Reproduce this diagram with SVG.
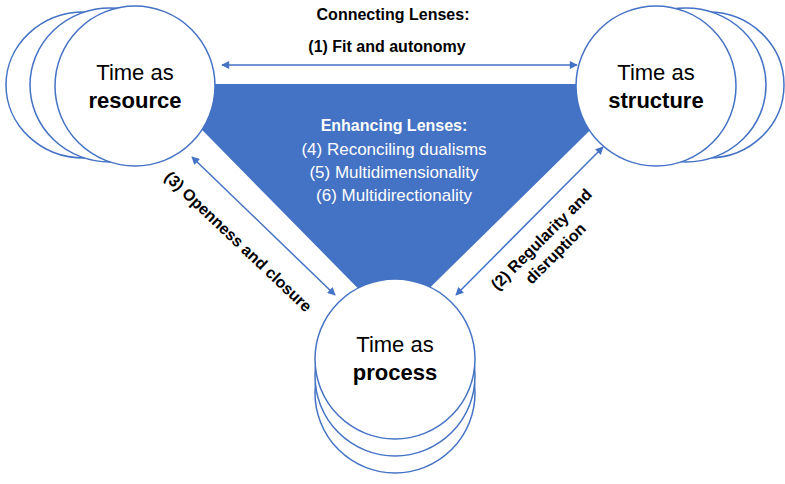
<svg xmlns="http://www.w3.org/2000/svg" width="785" height="484" viewBox="0 0 785 484">
  <defs>
    <marker id="ah" viewBox="0 0 10 10" refX="9" refY="5" markerWidth="9" markerHeight="8" markerUnits="userSpaceOnUse" orient="auto-start-reverse">
      <path d="M0,0 L10,5 L0,10 z" fill="#4472C4"/>
    </marker>
  </defs>
  <style>
    .c { fill: #ffffff; stroke: #4472C4; stroke-width: 1.5; }
    .t { font-family: "Liberation Sans", Arial, sans-serif; fill: #000; text-anchor: middle; }
    .nt { font-size: 22px; }
    .b { font-weight: bold; }
    .lbl { font-size: 16px; font-weight: bold; }
    .w { fill: #ffffff; font-size: 17px; }
    .conn { stroke: #4472C4; stroke-width: 1.5; fill: none; marker-start: url(#ah); marker-end: url(#ah); }
  </style>
  <rect width="785" height="484" fill="#ffffff"/>

  <g id="enhancing">
    <polygon points="157,84 637,84 393,324" fill="#4472C4"/>
    <text class="t b" x="394" y="131" style="fill:#fff;font-size:16px">Enhancing Lenses:</text>
    <text class="t w" x="394" y="155">(4) Reconciling dualisms</text>
    <text class="t w" x="394" y="178">(5) Multidimensionality</text>
    <text class="t w" x="394" y="201">(6) Multidirectionality</text>
  </g>

  <g id="resource">
    <ellipse class="c" cx="84" cy="85" rx="78" ry="73"/>
    <ellipse class="c" cx="110" cy="85" rx="80" ry="77"/>
    <circle class="c" cx="135" cy="86" r="80"/>
    <text class="t nt" x="135" y="80">Time as</text>
    <text class="t nt b" x="135" y="108">resource</text>
  </g>

  <g id="structure">
    <ellipse class="c" cx="708" cy="85" rx="76" ry="73"/>
    <ellipse class="c" cx="686" cy="85" rx="80" ry="77"/>
    <circle class="c" cx="656" cy="86" r="80"/>
    <text class="t nt" x="656" y="80">Time as</text>
    <text class="t nt b" x="656" y="108">structure</text>
  </g>

  <g id="process">
    <circle class="c" cx="395" cy="393" r="80"/>
    <circle class="c" cx="395" cy="376" r="80"/>
    <circle class="c" cx="395" cy="359" r="80"/>
    <text class="t nt" x="395" y="352">Time as</text>
    <text class="t nt b" x="395" y="380">process</text>
  </g>

  <g id="connectors">
    <line class="conn" x1="222" y1="65" x2="577" y2="65"/>
    <line class="conn" x1="192" y1="157" x2="335" y2="295"/>
    <line class="conn" x1="603" y1="147" x2="456" y2="295"/>
    <text class="t lbl" x="393" y="20">Connecting Lenses:</text>
    <text class="t lbl" x="387" y="52">(1) Fit and autonomy</text>
    <g transform="translate(238,242) rotate(43.5)">
      <text class="t lbl" x="0" y="5">(3) Openness and closure</text>
    </g>
    <g transform="translate(548,246) rotate(-45)">
      <text class="t lbl" x="0" y="-4">(2) Regularity and</text>
      <text class="t lbl" x="0" y="16">disruption</text>
    </g>
  </g>
</svg>
